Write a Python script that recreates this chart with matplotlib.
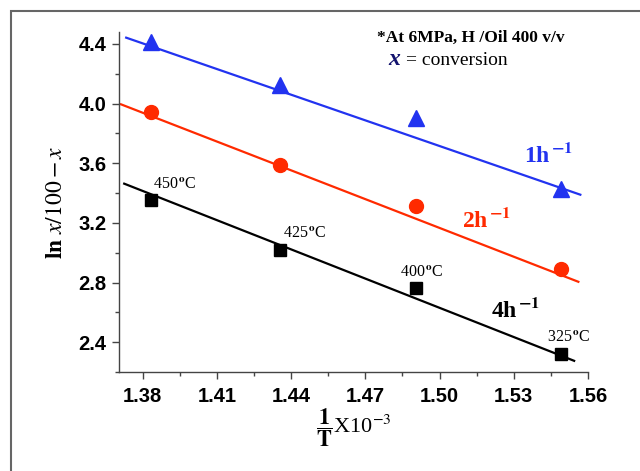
import matplotlib
matplotlib.use("Agg")
import matplotlib.pyplot as plt
from matplotlib.patches import Rectangle
from matplotlib.ticker import MultipleLocator

plt.rcParams['mathtext.fontset'] = 'stix'

# ---- data ----
inv_T = [1.3835, 1.4355, 1.4905, 1.549]          # 1/T x10^-3
y_1h = [4.415, 4.127, 3.905, 3.43]
y_2h = [3.945, 3.59, 3.315, 2.89]
y_4h = [3.355, 3.02, 2.765, 2.32]
temps = ['450', '425', '400', '325']

# fitted lines (end points)
fit_x_1h = [1.3734, 1.5569]
fit_y_1h = [4.442, 3.389]
fit_x_2h = [1.3713, 1.5561]
fit_y_2h = [3.995, 2.805]
fit_x_4h = [1.3726, 1.5544]
fit_y_4h = [3.463, 2.275]

xticks = [1.38, 1.41, 1.44, 1.47, 1.50, 1.53, 1.56]
xticklabels = ['1.38', '1.41', '1.44', '1.47', '1.50', '1.53', '1.56']
yticks = [2.4, 2.8, 3.2, 3.6, 4.0, 4.4]
yticklabels = ['2.4', '2.8', '3.2', '3.6', '4.0', '4.4']

BLUE = '#2233f0'
RED = '#ff2a00'
BLACK = '#000000'

fig = plt.figure(figsize=(6.4, 4.71), dpi=100)
ax = fig.add_axes([119/640, 1-372/471, (588-119)/640, (372-32)/471])

ax.plot(fit_x_1h, fit_y_1h, color=BLUE, lw=1.6)
ax.plot(fit_x_2h, fit_y_2h, color=RED, lw=1.6)
ax.plot(fit_x_4h, fit_y_4h, color=BLACK, lw=1.6)
ax.plot(inv_T, y_1h, ls='none', marker='^', ms=11, color=BLUE)
ax.plot(inv_T, y_2h, ls='none', marker='o', ms=10, color=RED)
ax.plot(inv_T, y_4h, ls='none', marker='s', ms=9, color=BLACK)

ax.set_xlim(1.3705, 1.56)
ax.set_ylim(2.2, 4.48)
ax.set_xticks(xticks)
ax.set_xticklabels(xticklabels)
ax.set_yticks(yticks)
ax.set_yticklabels(yticklabels)
ax.xaxis.set_minor_locator(MultipleLocator(0.015))
ax.yaxis.set_minor_locator(MultipleLocator(0.2))
for s in ['top', 'right']:
    ax.spines[s].set_visible(False)
for s in ['left', 'bottom']:
    ax.spines[s].set_color('#444444')
    ax.spines[s].set_linewidth(1.0)
ax.tick_params(which='major', direction='out', length=5, width=1, color='#444444')
ax.tick_params(which='minor', direction='out', length=3, width=1, color='#444444')
for lab in ax.get_xticklabels() + ax.get_yticklabels():
    lab.set_fontfamily('Liberation Sans')
    lab.set_fontweight('bold')
    lab.set_fontsize(14.5)
ax.tick_params(axis='x', pad=6)
ax.tick_params(axis='y', pad=4)

ax.set_ylabel(r'$\mathbf{ln}\ x/100-x$', fontsize=17, labelpad=8)
ax.set_xlabel(r'$\dfrac{\mathbf{1}}{\mathbf{T}}$X10$^{-3}$', fontsize=16,
              fontfamily='Liberation Serif', labelpad=0)

# temperature labels near the 4h^-1 points
offsets = [(2, 11), (3, 12), (-16, 11), (-14, 12)]
for xv, yv, t, off in zip(inv_T, y_4h, temps, offsets):
    ax.annotate(t + r'$^{\,\mathbf{o}}$C', (xv, yv), xytext=off,
                textcoords='offset pixels', ha='left', va='baseline',
                fontsize=11.5, fontfamily='Liberation Serif')

# series labels
ax.text(1.534, 3.61, r'1h$^{\,\mathbf{-1}}$', color=BLUE, fontsize=17,
        fontweight='bold', fontfamily='Liberation Serif', va='baseline')
ax.text(1.509, 3.174, r'2h$^{\,\mathbf{-1}}$', color=RED, fontsize=17,
        fontweight='bold', fontfamily='Liberation Serif', va='baseline')
ax.text(1.521, 2.57, r'4h$^{\,\mathbf{-1}}$', color=BLACK, fontsize=17,
        fontweight='bold', fontfamily='Liberation Serif', va='baseline')

# note
ax.text(0.55, 0.97, '*At 6MPa, H /Oil 400 v/v', transform=ax.transAxes,
        fontsize=12.5, fontweight='bold', fontfamily='Liberation Serif',
        va='baseline')
ax.text(0.575, 0.903, 'x', transform=ax.transAxes, fontsize=17,
        fontweight='bold', fontstyle='italic', color='#14146e',
        fontfamily='Liberation Serif', va='baseline')
ax.text(0.612, 0.903, '= conversion', transform=ax.transAxes, fontsize=14,
        fontfamily='Liberation Serif', va='baseline')

# figure frame
fig.add_artist(Rectangle((11/640, -0.1), 1.2, (471-11)/471 + 0.1,
                         transform=fig.transFigure, fill=False,
                         edgecolor='#666666', lw=1.5, clip_on=False))

fig.savefig('out.png', dpi=100)
